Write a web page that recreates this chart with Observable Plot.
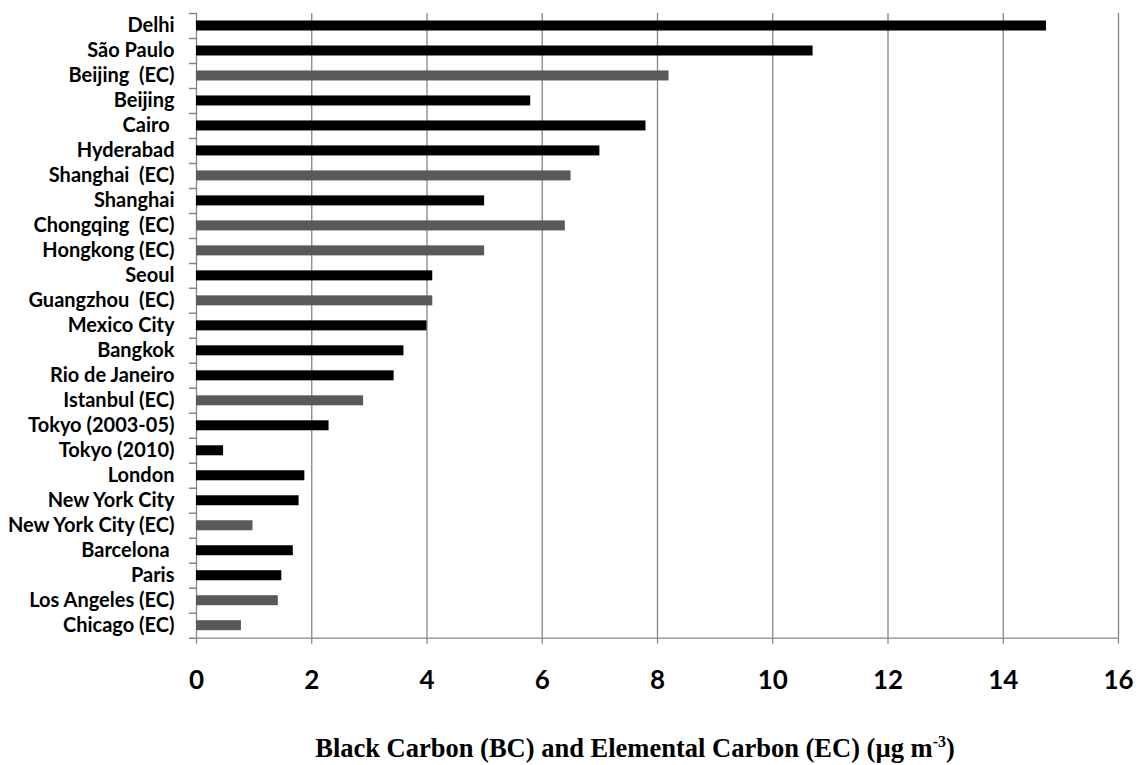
<!DOCTYPE html>
<html>
<head>
<meta charset="utf-8">
<script src="https://cdn.jsdelivr.net/npm/d3@7"></script>
<script src="https://cdn.jsdelivr.net/npm/@observablehq/plot@0.6"></script>
<style>
  body { margin: 0; background: #fff; }
  #title { position: absolute; left: 0; width: 1270px; top: 733px; line-height: 30px; text-align: center; white-space: nowrap;
    font-family: "Liberation Serif", "Times New Roman", serif; font-weight: bold; font-size: 26.5px; color: #000; }
  #title sup { font-size: 16px; line-height: 0; }
</style>
</head>
<body>
<div id="chart"></div>
<div id="title">Black Carbon (BC) and Elemental Carbon (EC) (µg m<sup>-3</sup>)</div>
<script>
const cities = ["Delhi", "São Paulo", "Beijing \u00a0(EC)", "Beijing", "Cairo\u00a0", "Hyderabad",
  "Shanghai \u00a0(EC)", "Shanghai", "Chongqing \u00a0(EC)", "Hongkong (EC)", "Seoul", "Guangzhou \u00a0(EC)",
  "Mexico City", "Bangkok", "Rio de Janeiro", "Istanbul (EC)", "Tokyo (2003-05)", "Tokyo (2010)",
  "London", "New York City", "New York City (EC)", "Barcelona\u00a0", "Paris", "Los Angeles (EC)", "Chicago (EC)"];
const values = [14.75, 10.7, 8.2, 5.8, 7.8, 7.0, 6.5, 5.0, 6.4, 5.0, 4.1, 4.1, 4.0, 3.6, 3.43, 2.9,
  2.3, 0.47, 1.88, 1.78, 0.98, 1.68, 1.48, 1.42, 0.78];
const types = ["BC", "BC", "EC", "BC", "BC", "BC", "EC", "BC", "EC", "EC", "BC", "EC", "BC", "BC", "BC", "EC",
  "BC", "BC", "BC", "BC", "EC", "BC", "BC", "EC", "EC"];
const xTicks = [0, 2, 4, 6, 8, 10, 12, 14, 16];

const data = cities.map((c, i) => ({city: c, value: values[i], type: types[i]}));
const grid = "#868686";
const half = (637.7 - 13) / cities.length / 2;
const tickShape = {draw(context, l) { context.moveTo(0, 0); context.lineTo(0, -l); }};
const yTick = (list, dy) => Plot.vector(list, {
  x: () => 0, y: d => d, dy, rotate: -90, length: 7, anchor: "start",
  shape: tickShape, stroke: grid, strokeWidth: 1.5
});

const chart = Plot.plot({
  width: 1140,
  height: 720,
  marginLeft: 196,
  marginRight: 22,
  marginTop: 13,
  marginBottom: 82.3,
  style: {fontFamily: "Lato, 'Open Sans', sans-serif", color: "#000", background: "#fff"},
  x: {domain: [0, 16]},
  y: {domain: cities, paddingInner: 0.6, paddingOuter: 0.3, round: false},
  color: {domain: ["BC", "EC"], range: ["#000000", "#595959"]},
  length: {type: "identity"},
  marks: [
    Plot.gridX(xTicks, {stroke: grid, strokeOpacity: 1, strokeWidth: 1.3}),
    Plot.ruleY([cities[cities.length - 1]], {dy: half, stroke: grid, strokeWidth: 1.3}),
    yTick(cities, -half),
    yTick([cities[cities.length - 1]], half),
    Plot.axisY({tickSize: 0, tickPadding: 22, fontSize: 20, fontWeight: "bold", fill: "#000", label: null}),
    Plot.axisX(xTicks, {tickSize: 6, tickPadding: 26, fontSize: 26, fontWeight: "bold", stroke: grid, fill: "#000", label: null, strokeWidth: 1.3}),
    Plot.barX(data, {y: "city", x: "value", fill: "type"})
  ]
});
document.getElementById("chart").appendChild(chart);
</script>
</body>
</html>
